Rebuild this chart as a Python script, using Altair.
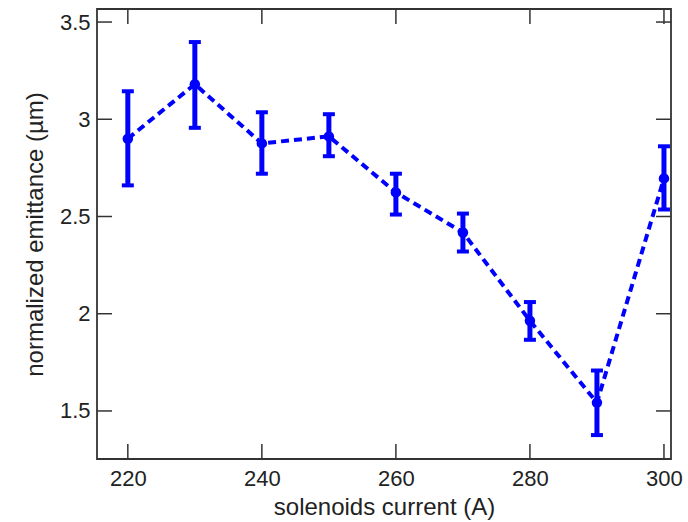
import altair as alt
import pandas as pd

current = [220, 230, 240, 250, 260, 270, 280, 290, 300]
emittance = [2.90, 3.18, 2.876, 2.912, 2.624, 2.418, 1.964, 1.543, 2.696]
err_hi = [3.144, 3.397, 3.036, 3.026, 2.72, 2.515, 2.06, 1.708, 2.861]
err_lo = [2.66, 2.956, 2.72, 2.81, 2.51, 2.32, 1.866, 1.376, 2.536]

x_ticks = [220, 240, 260, 280, 300]
y_ticks = [1.5, 2.0, 2.5, 3.0, 3.5]

df = pd.DataFrame({"x": current, "y": emittance, "hi": err_hi, "lo": err_lo})
xt = pd.DataFrame({"x": x_ticks})
yt = pd.DataFrame({"y": y_ticks})

BLUE = "#0000FF"
FRAME = "#333333"
TXT = "#222222"
FONT = "Liberation Sans"

xs = alt.Scale(domain=[215.4, 301.05], nice=False, zero=False)
ys = alt.Scale(domain=[1.253, 3.567], nice=False, zero=False)

xaxis = alt.Axis(values=x_ticks, title="solenoids current (A)", ticks=False, domain=False,
                 grid=False, labelFontSize=22, titleFontSize=24, labelPadding=9,
                 titlePadding=6, labelColor=TXT, titleColor=TXT,
                 labelFont=FONT, titleFont=FONT, titleFontWeight="normal", format="d")
yaxis = alt.Axis(values=y_ticks, title="normalized emittance (µm)", ticks=False, domain=False,
                 grid=False, labelFontSize=22, titleFontSize=24, labelPadding=7,
                 titlePadding=12, labelColor=TXT, titleColor=TXT,
                 labelFont=FONT, titleFont=FONT, titleFontWeight="normal",
                 labelExpr="datum.value == 2 ? '2' : datum.value == 3 ? '3' : datum.label")

base = alt.Chart(df)

line = base.mark_line(color=BLUE, strokeWidth=4, strokeDash=[8, 5]).encode(
    x=alt.X("x:Q", scale=xs, axis=xaxis),
    y=alt.Y("y:Q", scale=ys, axis=yaxis),
)
bars = base.mark_rule(color=BLUE, strokeWidth=5).encode(
    x=alt.X("x:Q", scale=xs), y=alt.Y("lo:Q", scale=ys), y2="hi:Q"
)
cap_hi = base.mark_tick(color=BLUE, size=12, thickness=4, orient="horizontal", opacity=1).encode(
    x=alt.X("x:Q", scale=xs), y=alt.Y("hi:Q", scale=ys)
)
cap_lo = base.mark_tick(color=BLUE, size=12, thickness=4, orient="horizontal", opacity=1).encode(
    x=alt.X("x:Q", scale=xs), y=alt.Y("lo:Q", scale=ys)
)
pts = base.mark_circle(color=BLUE, size=110, opacity=1).encode(
    x=alt.X("x:Q", scale=xs), y=alt.Y("y:Q", scale=ys)
)

tl = 15
tick_bottom = alt.Chart(xt).mark_rule(color=FRAME, strokeWidth=1.5).encode(
    x=alt.X("x:Q", scale=xs), y=alt.value(450), y2=alt.value(450 - tl))
tick_top = alt.Chart(xt).mark_rule(color=FRAME, strokeWidth=1.5).encode(
    x=alt.X("x:Q", scale=xs), y=alt.value(0), y2=alt.value(tl))
tick_left = alt.Chart(yt).mark_rule(color=FRAME, strokeWidth=1.5).encode(
    y=alt.Y("y:Q", scale=ys), x=alt.value(0), x2=alt.value(tl))
tick_right = alt.Chart(yt).mark_rule(color=FRAME, strokeWidth=1.5).encode(
    y=alt.Y("y:Q", scale=ys), x=alt.value(574), x2=alt.value(574 - tl))

chart = alt.layer(
    tick_bottom, tick_top, tick_left, tick_right, line, bars, cap_hi, cap_lo, pts
).properties(
    width=574, height=450,
    background="white",
    autosize=alt.AutoSizeParams(type="none"),
    padding={"left": 97, "top": 9, "right": 17, "bottom": 63},
).configure_view(
    stroke=FRAME, strokeWidth=1.8
)

chart.save("out.html", embed_options={"renderer": "svg", "actions": False})
